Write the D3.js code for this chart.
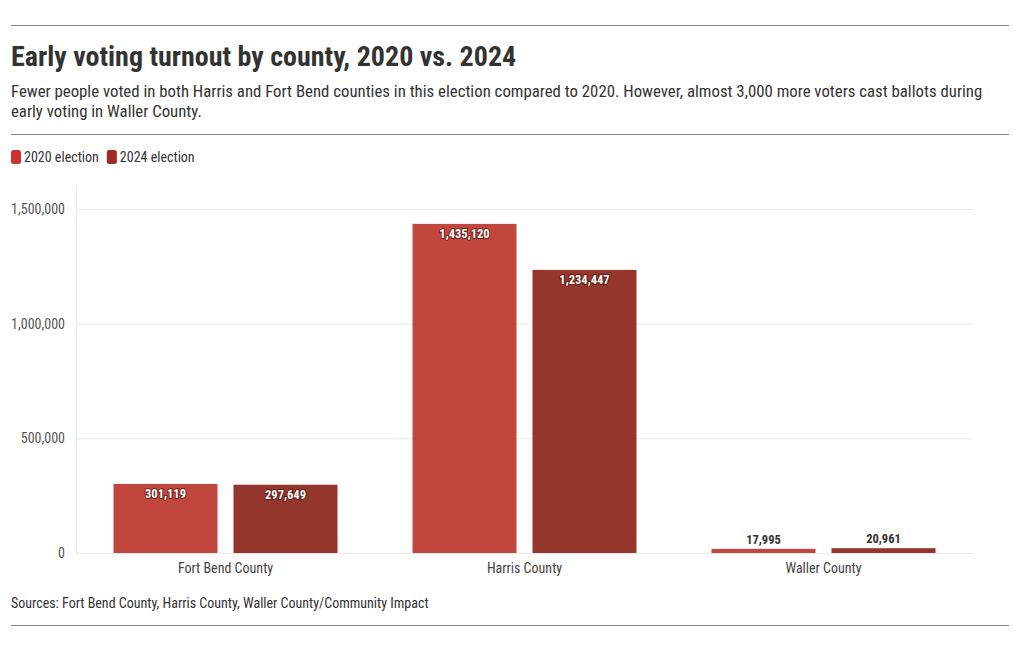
<!DOCTYPE html>
<html><head><meta charset="utf-8">
<script src="https://cdn.jsdelivr.net/npm/d3@7"></script>
<style>
body{margin:0;background:#fff;}
text{font-family:"Roboto Condensed","Liberation Sans Narrow","Roboto",sans-serif;}
</style></head>
<body><svg id="c" width="1020" height="650"></svg>
<script>
const counties = ["Fort Bend County", "Harris County", "Waller County"];
const seriesNames = ["2020 election", "2024 election"];
const values2020 = [301119, 1435120, 17995];
const values2024 = [297649, 1234447, 20961];
const yTicks = [0, 500000, 1000000, 1500000];
const colors = ["#c0463e", "#95362d"];
const legendColors = ["#cc3333", "#9e2a22"];

const svg = d3.select("#c");
const ff = '"Roboto Condensed","Liberation Sans Narrow",Roboto,sans-serif';
const rule = (y)=>svg.append("line").attr("x1",11).attr("x2",1009).attr("y1",y).attr("y2",y).attr("stroke","#888").attr("stroke-width",1);
rule(25.5); rule(134.5); rule(625.5);

svg.append("text").attr("x",11).attr("y",66).attr("font-size",28).attr("font-weight",700).attr("fill","#333")
  .text("Early voting turnout by county, 2020 vs. 2024");
const sub = ["Fewer people voted in both Harris and Fort Bend counties in this election compared to 2020. However, almost 3,000 more voters cast ballots during","early voting in Waller County."];
sub.forEach((s,i)=>svg.append("text").attr("x",11).attr("y",97+i*19.5).attr("font-size",16.8).attr("fill","#333").text(s));

// legend
let lx = 11;
seriesNames.forEach((n,i)=>{
  svg.append("rect").attr("x",lx).attr("y",150).attr("width",10).attr("height",14).attr("rx",2.5).attr("fill",legendColors[i]);
  const t = svg.append("text").attr("x",lx+13).attr("y",162).attr("font-size",14).attr("fill","#333").text(n);
  lx += 13 + t.node().getComputedTextLength() + 8;
});

const x0 = d3.scaleBand().domain(counties).range([76,973]).paddingInner(0).paddingOuter(0);
const y = d3.scaleLinear().domain([0,1500000]).range([553,209]);
const x1 = d3.scaleBand().domain(seriesNames).range([0,x0.bandwidth()]).paddingInner(0.1333).paddingOuter(0.3125);

// grid
const g = svg.append("g");
yTicks.forEach(t=>{
  g.append("line").attr("x1",76).attr("x2",973).attr("y1",y(t)+0.5).attr("y2",y(t)+0.5).attr("stroke","#eaeaea");
});
g.append("line").attr("x1",76.5).attr("x2",76.5).attr("y1",185).attr("y2",553).attr("stroke","#eaeaea");

const yAxis = svg.append("g").attr("transform","translate(76,0)").call(d3.axisLeft(y).tickValues(yTicks).tickFormat(d3.format(",")).tickSize(0).tickPadding(11));
yAxis.select(".domain").remove();
yAxis.selectAll("text").attr("font-size",14).attr("fill","#555").style("font-family",ff);

const xAxis = svg.append("g").attr("transform","translate(0,553)").call(d3.axisBottom(x0).tickSize(0).tickPadding(10));
xAxis.select(".domain").remove();
xAxis.selectAll("text").attr("font-size",14).attr("fill","#444").style("font-family",ff);

const data = counties.map((c,i)=>({c, vals:[values2020[i], values2024[i]]}));
const fmt = d3.format(",");
data.forEach(d=>{
  d.vals.forEach((v,j)=>{
    const bx = x0(d.c)+x1(seriesNames[j]);
    const bw = x1.bandwidth();
    svg.append("rect").attr("x",bx).attr("y",y(v)).attr("width",bw).attr("height",553-y(v)).attr("fill",colors[j]);
    const h = 553-y(v);
    const inside = h > 30;
    const t = svg.append("text").attr("x",bx+bw/2).attr("text-anchor","middle").attr("font-size",12.5).attr("font-weight",700)
      .text(fmt(v));
    if(inside){
      t.attr("y",y(v)+14.5).attr("fill","#fff").style("paint-order","stroke").attr("stroke","rgba(60,10,5,0.6)").attr("stroke-width",2);
    } else {
      t.attr("y",y(v)-5).attr("fill","#333");
    }
  });
});

svg.append("text").attr("x",11).attr("y",608).attr("font-size",14).attr("fill","#333").text("Sources: Fort Bend County, Harris County, Waller County/Community Impact");
</script></body></html>
